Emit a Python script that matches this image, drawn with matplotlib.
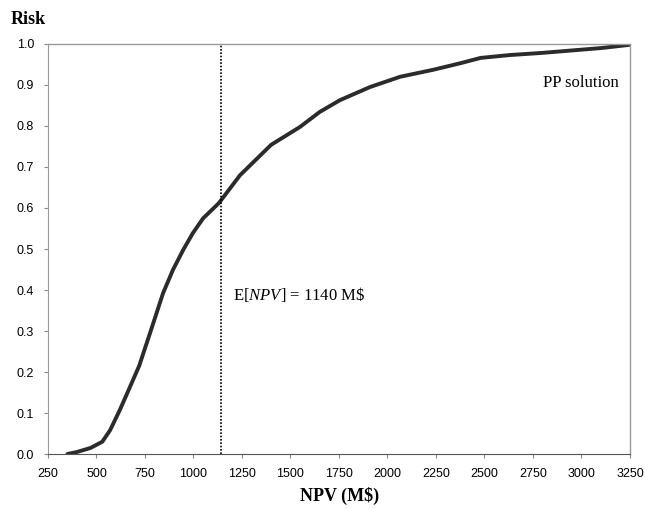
import matplotlib
matplotlib.use("Agg")
import matplotlib.pyplot as plt

# cumulative risk curve
npv = [350, 400, 470, 530, 570, 620, 660, 720, 776, 843, 894, 946, 997,
       1050, 1131, 1240, 1400, 1550, 1650, 1755, 1910, 2065, 2235, 2375,
       2480, 2630, 2790, 3100, 3250]
risk = [0.0, 0.005, 0.015, 0.03, 0.058, 0.107, 0.15, 0.215, 0.295, 0.392,
        0.449, 0.497, 0.539, 0.575, 0.612, 0.68, 0.754, 0.798, 0.834, 0.863,
        0.895, 0.92, 0.937, 0.953, 0.966, 0.973, 0.978, 0.99, 0.998]
expected_npv = 1140
x_ticks = list(range(250, 3251, 250))
y_ticks = [i / 10 for i in range(11)]

serif = "Liberation Serif"
sans = "Liberation Sans"
plt.rcParams["mathtext.fontset"] = "custom"
plt.rcParams["mathtext.rm"] = serif
plt.rcParams["mathtext.it"] = serif + ":italic"

fig = plt.figure(figsize=(6.45, 5.09), dpi=100)
ax = fig.add_axes([0.0744, 0.108, 0.9023, 0.8056])

ax.plot(npv, risk, color="#2b2b2b", lw=2.8, solid_capstyle="round")
ax.plot([expected_npv, expected_npv], [0, 1.0], color="black", lw=1.2, ls=(0, (1, 1)))

ax.set_xlim(250, 3250)
ax.set_ylim(0, 1.0)
ax.set_xticks(x_ticks)
ax.set_yticks(y_ticks)
ax.set_yticklabels(["%.1f" % v for v in y_ticks])
for lab in ax.get_xticklabels() + ax.get_yticklabels():
    lab.set_fontfamily(sans)
    lab.set_fontsize(9)
ax.tick_params(direction="out", length=3, color="#888888", width=0.8, pad=7)

for side in ["top", "right"]:
    ax.spines[side].set_color("#999999")
    ax.spines[side].set_linewidth(1.0)
ax.spines["bottom"].set_color("#555555")
ax.spines["left"].set_color("#999999")
ax.spines["left"].set_linestyle((0, (2, 1)))

ax.text(1204, 0.388, r"E[$\mathit{NPV}$] = 1140 M\$", fontfamily=serif, fontsize=12,
        va="center", ha="left")
ax.text(3193, 0.905, "PP solution", fontfamily=serif, fontsize=12,
        va="center", ha="right")

fig.text(0.016, 0.961, "Risk", fontfamily=serif, fontweight="bold", fontsize=13,
         va="center", ha="left")
fig.text(0.526, 0.026, "NPV (M$)", fontfamily=serif, fontweight="bold", fontsize=13,
         va="center", ha="center")

fig.savefig("out.png", dpi=100)
